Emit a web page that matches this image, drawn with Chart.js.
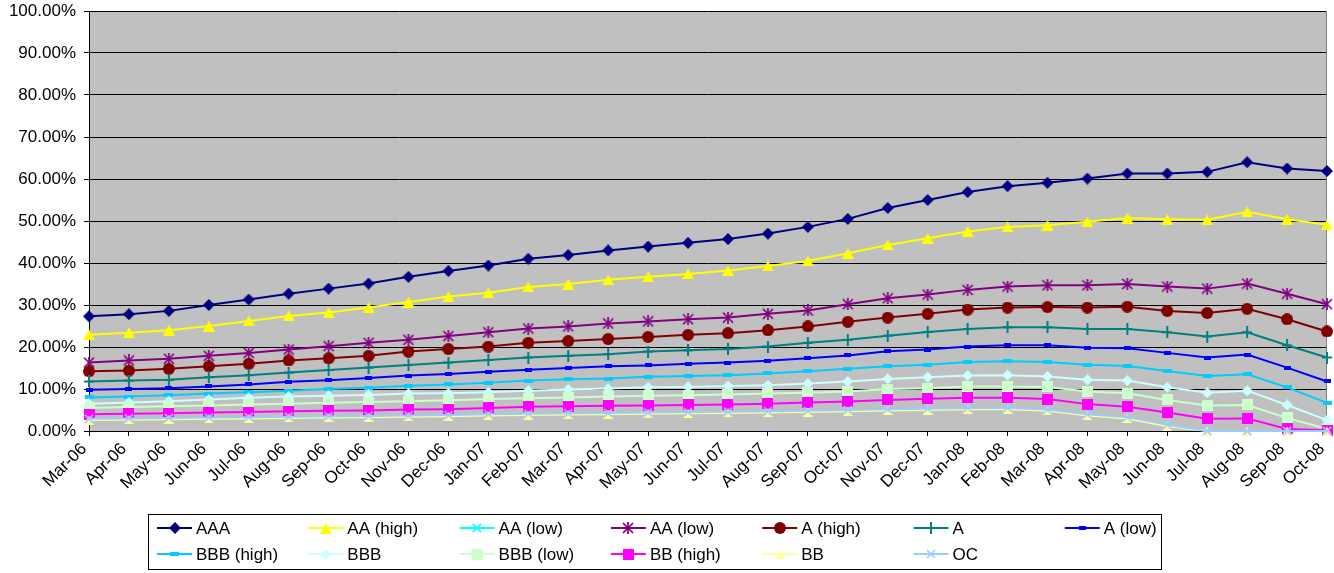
<!DOCTYPE html>
<html>
<head>
<meta charset="utf-8">
<script src="https://cdn.jsdelivr.net/npm/chart.js@4/dist/chart.umd.min.js"></script>
<style>
  html, body { margin: 0; padding: 0; background: #ffffff; }
  #wrap { width: 1334px; height: 573px; position: relative; }
  canvas { display: block; }
</style>
</head>
<body>
<div id="wrap"><canvas id="c" width="1334" height="573"></canvas></div>
<script>
// Monthly categories
const months = ['Mar-06','Apr-06','May-06','Jun-06','Jul-06','Aug-06','Sep-06','Oct-06','Nov-06','Dec-06',
  'Jan-07','Feb-07','Mar-07','Apr-07','May-07','Jun-07','Jul-07','Aug-07','Sep-07','Oct-07','Nov-07','Dec-07',
  'Jan-08','Feb-08','Mar-08','Apr-08','May-08','Jun-08','Jul-08','Aug-08','Sep-08','Oct-08'];

// Series values, in percent
const aaa     = [27.3,27.8,28.6,30.0,31.3,32.7,33.9,35.1,36.7,38.1,39.4,41.0,41.9,43.0,43.9,44.8,45.7,47.0,48.6,50.5,53.1,55.0,56.9,58.3,59.1,60.1,61.3,61.3,61.7,64.0,62.5,61.9];
const aaHigh  = [22.9,23.4,24.0,25.0,26.2,27.4,28.2,29.4,30.7,32.0,32.9,34.3,35.0,36.0,36.7,37.4,38.2,39.3,40.5,42.3,44.3,45.9,47.5,48.6,49.0,49.8,50.7,50.4,50.3,52.2,50.4,49.1];
const aaLowX  = [];
const aaLow   = [16.3,16.8,17.2,17.9,18.6,19.4,20.2,21.0,21.7,22.6,23.5,24.4,24.9,25.6,26.1,26.6,27.0,27.9,28.7,30.2,31.6,32.5,33.6,34.4,34.7,34.7,35.0,34.4,33.9,35.1,32.7,30.2];
const aHigh   = [14.2,14.4,14.8,15.4,16.0,16.8,17.3,17.9,18.9,19.5,20.1,21.0,21.4,21.9,22.4,22.9,23.3,24.0,24.9,26.0,27.0,27.9,28.9,29.4,29.5,29.4,29.6,28.6,28.1,29.1,26.6,23.7];
const aMid    = [11.8,12.0,12.2,12.8,13.3,13.9,14.5,15.1,15.7,16.3,16.9,17.5,17.9,18.3,18.9,19.2,19.5,20.1,21.0,21.7,22.7,23.6,24.3,24.7,24.7,24.3,24.3,23.5,22.5,23.5,20.4,17.5];
const aLow    = [9.8,10.0,10.2,10.6,11.1,11.7,12.1,12.6,13.2,13.6,14.1,14.6,15.0,15.4,15.6,16.0,16.3,16.7,17.3,18.0,19.0,19.4,20.1,20.4,20.4,19.8,19.7,18.6,17.5,18.2,15.1,11.8];
const bbbHigh = [8.0,8.2,8.5,8.9,9.2,9.6,10.0,10.3,10.8,11.1,11.5,12.0,12.3,12.5,12.9,13.1,13.3,13.7,14.2,14.8,15.4,15.8,16.4,16.6,16.4,15.8,15.5,14.3,13.1,13.5,10.4,6.7];
const bbb     = [6.5,6.8,7.1,7.5,7.9,8.2,8.4,8.6,8.9,9.0,9.2,9.6,9.9,10.1,10.4,10.5,10.7,10.9,11.3,11.8,12.4,12.8,13.2,13.3,13.0,12.2,12.0,10.4,9.1,9.6,6.2,2.6];
const bbbLow  = [5.5,5.7,5.9,6.1,6.3,6.5,6.7,6.9,7.1,7.3,7.6,7.8,8.0,8.2,8.4,8.5,8.7,8.9,9.1,9.4,10.0,10.2,10.6,10.6,10.5,9.4,9.0,7.4,6.1,6.2,3.1,0.5];
const bbHigh  = [4.0,4.1,4.2,4.4,4.5,4.7,4.8,4.9,5.1,5.2,5.5,5.8,5.9,6.0,6.1,6.2,6.3,6.5,6.8,7.0,7.4,7.7,7.9,7.9,7.6,6.4,5.8,4.4,2.9,3.0,0.5,0.2];
const bb      = [2.6,2.7,2.8,2.9,3.0,3.1,3.2,3.3,3.4,3.5,3.7,3.8,3.9,4.0,4.1,4.2,4.3,4.4,4.5,4.7,4.9,5.0,5.2,5.2,4.8,3.7,3.0,1.1,0.0,0.0,0.0,0.0];
const oc      = [2.9,3.0,3.1,3.2,3.3,3.4,3.5,3.6,3.7,3.8,4.0,4.1,4.2,4.3,4.4,4.5,4.6,4.7,4.8,5.0,5.2,5.3,5.5,5.5,5.1,4.0,3.3,1.5,0.0,0.0,0.0,0.0];

// Axis ticks
const yTicks = [0,10,20,30,40,50,60,70,80,90,100];

// Small bitmap markers used both on the lines and in the legend
function marker(kind, color, w, h) {
  const c = document.createElement('canvas');
  c.width = w; c.height = h;
  const g = c.getContext('2d');
  g.fillStyle = color; g.strokeStyle = color;
  g.beginPath();
  switch (kind) {
    case 'diamond':
      g.moveTo(w / 2, 0); g.lineTo(w, h / 2); g.lineTo(w / 2, h); g.lineTo(0, h / 2); g.closePath(); g.fill(); break;
    case 'triangle':
      g.moveTo(w / 2, 0); g.lineTo(w, h); g.lineTo(0, h); g.closePath(); g.fill(); break;
    case 'circle':
      g.arc(w / 2, h / 2, w / 2, 0, Math.PI * 2); g.fill(); break;
    case 'rect':
      g.fillRect(0, 0, w, h); break;
    case 'x':
      g.lineWidth = 1.7;
      g.moveTo(1, 1); g.lineTo(w - 1, h - 1); g.moveTo(w - 1, 1); g.lineTo(1, h - 1); g.stroke(); break;
    case 'star':
      g.lineWidth = 1.7;
      g.moveTo(1, 1); g.lineTo(w - 1, h - 1); g.moveTo(w - 1, 1); g.lineTo(1, h - 1);
      g.moveTo(w / 2, 0); g.lineTo(w / 2, h); g.stroke(); break;
    case 'plus':
      g.lineWidth = 2;
      g.moveTo(w / 2, 0); g.lineTo(w / 2, h); g.moveTo(0, h / 2); g.lineTo(w, h / 2); g.stroke(); break;
  }
  return c;
}

const series = [
  { label: 'AAA',        data: aaa,     color: '#000080', m: marker('diamond', '#000080', 12, 12) },
  { label: 'AA (high)',  data: aaHigh,  color: '#FFFF00', m: marker('triangle', '#FFFF00', 12, 11) },
  { label: 'AA (low)',   data: aaLowX,  color: '#00FFFF', m: marker('x', '#00FFFF', 10, 10) },
  { label: 'AA (low)',   data: aaLow,   color: '#800080', m: marker('star', '#800080', 12, 12) },
  { label: 'A (high)',   data: aHigh,   color: '#800000', m: marker('circle', '#800000', 12, 12) },
  { label: 'A',          data: aMid,    color: '#008080', m: marker('plus', '#008080', 10, 12) },
  { label: 'A (low)',    data: aLow,    color: '#0000FF', m: marker('rect', '#0000FF', 7, 4) },
  { label: 'BBB (high)', data: bbbHigh, color: '#00CCFF', m: marker('rect', '#00CCFF', 9, 4) },
  { label: 'BBB',        data: bbb,     color: '#CCFFFF', m: marker('diamond', '#CCFFFF', 11, 11) },
  { label: 'BBB (low)',  data: bbbLow,  color: '#CCFFCC', m: marker('rect', '#CCFFCC', 11, 11) },
  { label: 'BB (high)',  data: bbHigh,  color: '#FF00FF', m: marker('rect', '#FF00FF', 11, 11) },
  { label: 'BB',         data: bb,      color: '#FFFF99', m: marker('triangle', '#FFFF99', 10, 9) },
  { label: 'OC',         data: oc,      color: '#99CCFF', m: marker('x', '#99CCFF', 10, 10) }
];

const FONT = '"Liberation Sans", Arial, sans-serif';

// Grey plot area and its right-hand frame
const plotBackground = {
  id: 'plotBackground',
  beforeDraw(chart) {
    const a = chart.chartArea, ctx = chart.ctx;
    ctx.save();
    ctx.fillStyle = '#C0C0C0';
    ctx.fillRect(a.left, a.top, a.right - a.left, a.bottom - a.top);
    ctx.restore();
  },
  beforeDatasetsDraw(chart) {
    const a = chart.chartArea, ctx = chart.ctx;
    ctx.save();
    ctx.strokeStyle = '#808080';
    ctx.lineWidth = 1;
    ctx.beginPath();
    ctx.moveTo(Math.round(a.right) - 0.5, a.top);
    ctx.lineTo(Math.round(a.right) - 0.5, a.bottom);
    ctx.stroke();
    ctx.restore();
  }
};

// Boxed legend laid out in a fixed grid of seven columns
const boxLegend = {
  id: 'boxLegend',
  afterDraw(chart) {
    const ctx = chart.ctx;
    ctx.save();
    ctx.strokeStyle = '#000';
    ctx.lineWidth = 1;
    ctx.strokeRect(148.5, 514.5, 1013, 55);
    ctx.font = '17px ' + FONT;
    ctx.textBaseline = 'middle';
    chart.data.datasets.forEach((ds, i) => {
      const col = i % 7, row = Math.floor(i / 7);
      const x0 = 157 + col * 151.3;
      const y = 528 + row * 26;
      ctx.strokeStyle = ds.borderColor;
      ctx.lineWidth = 2;
      ctx.beginPath();
      ctx.moveTo(x0, y); ctx.lineTo(x0 + 35, y);
      ctx.stroke();
      const m = ds.pointStyle;
      ctx.drawImage(m, Math.round(x0 + 17.5 - m.width / 2), Math.round(y - m.height / 2));
      ctx.fillStyle = '#000';
      ctx.fillText(ds.label, x0 + 39, y + 1);
    });
    ctx.restore();
  }
};

// Keep the plot rectangle fixed: no extra label overflow padding
function noPad(scale) {
  scale.paddingTop = 0; scale.paddingBottom = 0;
  scale.paddingLeft = 0; scale.paddingRight = 0;
}

const n = series.length;
new Chart(document.getElementById('c'), {
  type: 'line',
  data: {
    labels: months,
    datasets: series.map((s, i) => ({
      label: s.label,
      data: s.data,
      borderColor: s.color,
      backgroundColor: s.color,
      borderWidth: 2,
      pointStyle: s.m,
      pointRadius: 5,
      pointHoverRadius: 5,
      tension: 0,
      fill: false,
      clip: false,
      order: n - i
    }))
  },
  options: {
    responsive: false,
    animation: false,
    events: [],
    layout: { padding: { top: 11, right: 6, left: 0, bottom: 0 } },
    plugins: {
      legend: { display: false },
      tooltip: { enabled: false },
      title: { display: false }
    },
    scales: {
      x: {
        offset: false,
        afterFit(scale) { scale.height = 142; noPad(scale); },
        grid: { display: true, drawOnChartArea: false, drawTicks: true, tickLength: 5, color: '#000', lineWidth: 1 },
        border: { display: true, color: '#000', width: 1 },
        ticks: {
          autoSkip: false, maxRotation: 45, minRotation: 45, padding: 3, labelOffset: -5,
          color: '#000', font: { family: FONT, size: 17 }
        }
      },
      y: {
        min: 0, max: 100,
        afterFit(scale) { scale.width = 89; noPad(scale); },
        afterBuildTicks(scale) { scale.ticks = yTicks.map(v => ({ value: v })); },
        grid: { display: true, drawTicks: true, tickLength: 5, color: '#000', lineWidth: 1 },
        border: { display: true, color: '#000', width: 1 },
        ticks: {
          padding: 8, color: '#000', font: { family: FONT, size: 17 },
          callback: v => v.toFixed(2) + '%'
        }
      }
    }
  },
  plugins: [plotBackground, boxLegend]
});
</script>
</body>
</html>
